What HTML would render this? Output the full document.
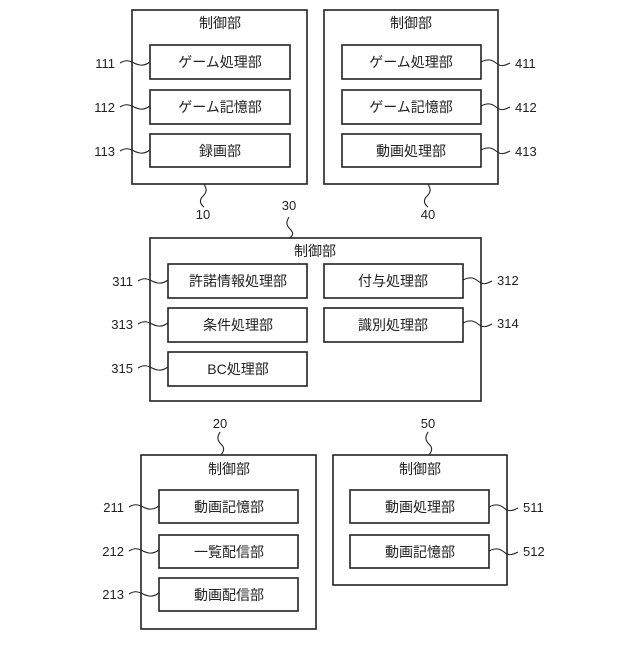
<!DOCTYPE html>
<html><head><meta charset="utf-8"><style>
body{margin:0;background:#fff}
svg text{font-family:"Liberation Sans","Noto Sans CJK JP",sans-serif;font-size:13px;fill:#222}
svg .b text{font-size:14px}
</style></head><body>
<svg width="640" height="640" viewBox="0 0 640 640" xmlns="http://www.w3.org/2000/svg">
<g fill="none" stroke="#222" stroke-width="1.6">
<rect x="132" y="10" width="175" height="174"/>
<rect x="150" y="45" width="140" height="34"/>
<rect x="150" y="90" width="140" height="34"/>
<rect x="150" y="134" width="140" height="33"/>
<rect x="324" y="10" width="174" height="174"/>
<rect x="342" y="45" width="139" height="34"/>
<rect x="342" y="90" width="139" height="34"/>
<rect x="342" y="134" width="139" height="33"/>
<rect x="150" y="238" width="331" height="163"/>
<rect x="168" y="264" width="139" height="34"/>
<rect x="168" y="308" width="139" height="34"/>
<rect x="168" y="352" width="139" height="34"/>
<rect x="324" y="264" width="139" height="34"/>
<rect x="324" y="308" width="139" height="34"/>
<rect x="141" y="455" width="175" height="174"/>
<rect x="159" y="490" width="139" height="33"/>
<rect x="159" y="535" width="139" height="33"/>
<rect x="159" y="578" width="139" height="33"/>
<rect x="333" y="455" width="174" height="130"/>
<rect x="350" y="490" width="139" height="33"/>
<rect x="350" y="535" width="139" height="33"/>
</g>
<g fill="none" stroke="#222" stroke-width="1.1">
<path d="M120,63 c5,-3 8,-3 14,0 s10,3 16,-1"/>
<path d="M120,107 c5,-3 8,-3 14,0 s10,3 16,-1"/>
<path d="M120,151 c5,-3 8,-3 14,0 s10,3 16,-1"/>
<path d="M138,281 c5,-3 8,-3 14,0 s10,3 16,-1"/>
<path d="M138,324 c5,-3 8,-3 14,0 s10,3 16,-1"/>
<path d="M138,368 c5,-3 8,-3 14,0 s10,3 16,-1"/>
<path d="M129,507 c5,-3 8,-3 14,0 s10,3 16,-1"/>
<path d="M129,551 c5,-3 8,-3 14,0 s10,3 16,-1"/>
<path d="M129,594 c5,-3 8,-3 14,0 s10,3 16,-1"/>
<path d="M481,62 c6,-3 10,-3 15,1 s8,3 14,0"/>
<path d="M481,106 c6,-3 10,-3 15,1 s8,3 14,0"/>
<path d="M481,150 c6,-3 10,-3 15,1 s8,3 14,0"/>
<path d="M463,280 c6,-3 10,-3 15,1 s8,3 14,0"/>
<path d="M463,323 c6,-3 10,-3 15,1 s8,3 14,0"/>
<path d="M489,507 c6,-3 10,-3 15,1 s8,3 14,0"/>
<path d="M489,551 c6,-3 10,-3 15,1 s8,3 14,0"/>
<path d="M204,184 c3,5 3,8 -1,12 s-3,8 1,11"/>
<path d="M428,184 c3,5 3,8 -1,12 s-3,8 1,11"/>
<path d="M289,217 c-3,5 -3,8 1,12 s3,6 0,9"/>
<path d="M220,432 c-3,5 -3,8 1,12 s3,7 0,11"/>
<path d="M428,432 c-3,5 -3,8 1,12 s3,7 0,11"/>
</g>
<g text-anchor="middle" class="b">
<text x="220" y="28">制御部</text>
<text x="220" y="67">ゲーム処理部</text>
<text x="220" y="112">ゲーム記憶部</text>
<text x="220" y="156">録画部</text>
<text x="411" y="28">制御部</text>
<text x="411" y="67">ゲーム処理部</text>
<text x="411" y="112">ゲーム記憶部</text>
<text x="411" y="156">動画処理部</text>
<text x="315" y="256">制御部</text>
<text x="238" y="286">許諾情報処理部</text>
<text x="238" y="330">条件処理部</text>
<text x="238" y="374">BC処理部</text>
<text x="393" y="286">付与処理部</text>
<text x="393" y="330">識別処理部</text>
<text x="229" y="474">制御部</text>
<text x="229" y="512">動画記憶部</text>
<text x="229" y="557">一覧配信部</text>
<text x="229" y="600">動画配信部</text>
<text x="420" y="474">制御部</text>
<text x="420" y="512">動画処理部</text>
<text x="420" y="557">動画記憶部</text>
</g>
<g text-anchor="middle">
<text x="203" y="219">10</text>
<text x="428" y="219">40</text>
<text x="289" y="210">30</text>
<text x="220" y="428">20</text>
<text x="428" y="428">50</text>
</g>
<g text-anchor="end">
<text x="115" y="68">111</text>
<text x="115" y="112">112</text>
<text x="115" y="156">113</text>
<text x="133" y="286">311</text>
<text x="133" y="329">313</text>
<text x="133" y="373">315</text>
<text x="124" y="512">211</text>
<text x="124" y="556">212</text>
<text x="124" y="599">213</text>
</g>
<g text-anchor="start">
<text x="515" y="68">411</text>
<text x="515" y="112">412</text>
<text x="515" y="156">413</text>
<text x="497" y="285">312</text>
<text x="497" y="328">314</text>
<text x="523" y="512">511</text>
<text x="523" y="556">512</text>
</g>
</svg>
</body></html>
